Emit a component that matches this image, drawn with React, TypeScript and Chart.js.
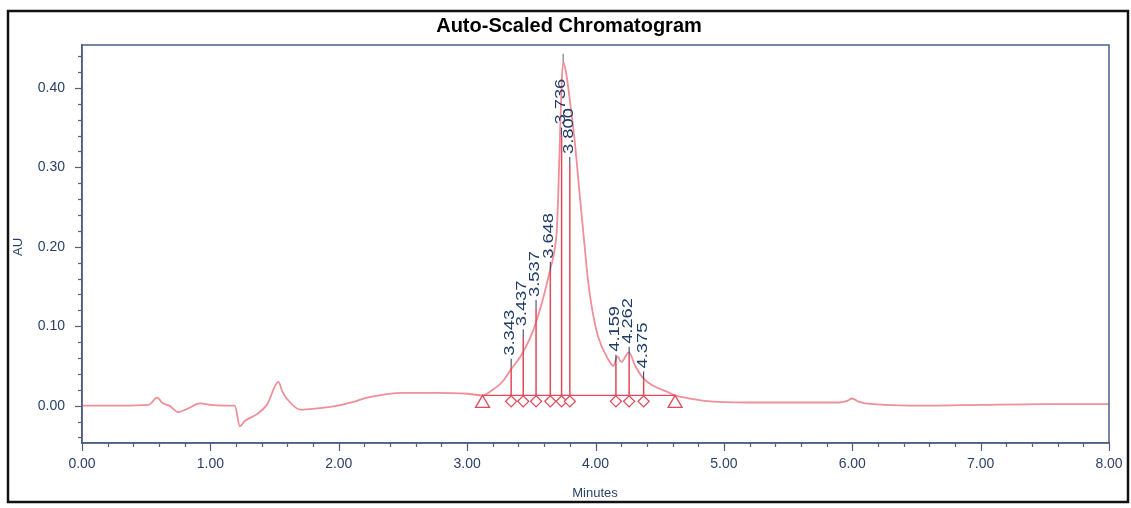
import React, { useEffect, useRef } from "react";
import { Chart, registerables } from "chart.js";

Chart.register(...registerables);

const WIDTH = 1131;
const HEIGHT = 508;

// Detector trace: retention time (min) and absorbance (AU)
const times = [
  0.0, 0.3, 0.52, 0.585, 0.63, 0.68, 0.75, 0.82, 0.92, 1.0, 1.1, 1.19, 1.23, 1.27, 1.36,
  1.44, 1.53, 1.56, 1.6, 1.7, 1.85, 1.96, 2.1, 2.22, 2.35, 2.48, 2.75, 3.0, 3.12, 3.2,
  3.28, 3.343, 3.4, 3.437, 3.49, 3.537, 3.6, 3.648, 3.68, 3.7, 3.72, 3.735, 3.748, 3.77,
  3.8, 3.84, 3.88, 3.91, 3.94, 3.97, 4.02, 4.1, 4.14, 4.17, 4.2, 4.26, 4.31, 4.375, 4.45,
  4.55, 4.62, 4.7, 4.85, 5.2, 5.9, 5.96, 6.0, 6.05, 6.1, 6.6, 7.0, 7.5, 8.0,
];
const absorbance = [
  0.0, 0.0, 0.001, 0.01, 0.003, 0.0, -0.008, -0.004, 0.003, 0.001, 0.0, 0.0, -0.026, -0.019,
  -0.011, 0.001, 0.03, 0.018, 0.008, -0.005, -0.003, -0.001, 0.004, 0.01, 0.014, 0.016,
  0.016, 0.015, 0.013, 0.02, 0.031, 0.046, 0.058, 0.068, 0.085, 0.105, 0.14, 0.172, 0.195,
  0.225, 0.32, 0.4, 0.433, 0.42, 0.385, 0.33, 0.26, 0.21, 0.16, 0.125, 0.087, 0.058, 0.05,
  0.062, 0.055, 0.067, 0.05, 0.034, 0.025, 0.018, 0.013, 0.01, 0.006, 0.004, 0.004, 0.006,
  0.009, 0.005, 0.003, 0.0, 0.001, 0.002, 0.002,
];

// Integrated peaks: retention times and drop-line heights (AU)
const peakTimes = [3.343, 3.437, 3.537, 3.648, 3.736, 3.8, 4.159, 4.262, 4.375];
const peakLabels = ["3.343", "3.437", "3.537", "3.648", "3.736", "3.800", "4.159", "4.262", "4.375"];
const dropTops = [0.049, 0.086, 0.123, 0.171, 0.34, 0.303, 0.054, 0.064, 0.033];

// Integration baseline (start / end times and level in AU)
const baselineStart = 3.12;
const baselineEnd = 4.62;
const baselineLevel = 0.013;

// Axis ranges and ticks
const xMin = 0;
const xMax = 8;
const xMajorStep = 1;
const xMinorStep = 0.2;
const yMin = -0.047;
const yMax = 0.454;
const yMajorStep = 0.1;
const yMinorStep = 0.02;

const TITLE = "Auto-Scaled Chromatogram";
const X_TITLE = "Minutes";
const Y_TITLE = "AU";

const FONT = "'Liberation Sans', Arial, sans-serif";
const AXIS_COLOR = "#4d5f82";
const TICK_TEXT = "#2b4268";
const TRACE_COLOR = "#ef8f99";
const MARK_COLOR = "#e4485a";
const LABEL_COLOR = "#1f3b66";

const chromPlugin = {
  id: "chromMarks",
  afterDatasetsDraw(chart: any) {
    const { ctx, scales } = chart;
    const x = scales.x;
    const y = scales.y;
    ctx.save();

    const by = y.getPixelForValue(baselineLevel);

    // integration baseline
    ctx.strokeStyle = MARK_COLOR;
    ctx.lineWidth = 1.2;
    ctx.beginPath();
    ctx.moveTo(x.getPixelForValue(baselineStart), by);
    ctx.lineTo(x.getPixelForValue(baselineEnd), by);
    ctx.stroke();

    // drop lines
    ctx.lineWidth = 1.5;
    peakTimes.forEach((t, i) => {
      const px = x.getPixelForValue(t);
      const top = y.getPixelForValue(dropTops[i]);
      ctx.beginPath();
      ctx.moveTo(px, by);
      ctx.lineTo(px, top);
      ctx.stroke();
    });

    // diamonds under each drop line
    ctx.lineWidth = 1.3;
    peakTimes.forEach((t) => {
      const px = x.getPixelForValue(t);
      const cy = by + 6;
      ctx.beginPath();
      ctx.moveTo(px, cy - 5.5);
      ctx.lineTo(px + 5.5, cy);
      ctx.lineTo(px, cy + 5.5);
      ctx.lineTo(px - 5.5, cy);
      ctx.closePath();
      ctx.fillStyle = "#ffffff";
      ctx.fill();
      ctx.stroke();
    });

    // baseline start / end triangles
    [baselineStart, baselineEnd].forEach((t) => {
      const px = x.getPixelForValue(t);
      ctx.beginPath();
      ctx.moveTo(px, by);
      ctx.lineTo(px + 7, by + 12);
      ctx.lineTo(px - 7, by + 12);
      ctx.closePath();
      ctx.fillStyle = "#ffffff";
      ctx.fill();
      ctx.stroke();
    });

    // apex marker
    let apexIdx = 0;
    absorbance.forEach((v, i) => {
      if (v > absorbance[apexIdx]) apexIdx = i;
    });
    const ax = x.getPixelForValue(times[apexIdx]);
    const ay = y.getPixelForValue(absorbance[apexIdx]);
    ctx.strokeStyle = "#7a7f8a";
    ctx.lineWidth = 1.2;
    ctx.beginPath();
    ctx.moveTo(ax, ay);
    ctx.lineTo(ax, ay - 8);
    ctx.stroke();

    // retention time labels
    peakTimes.forEach((t, i) => {
      const px = x.getPixelForValue(t);
      const top = y.getPixelForValue(dropTops[i]);
      ctx.strokeStyle = "#2a3a5a";
      ctx.lineWidth = 1;
      ctx.beginPath();
      ctx.moveTo(px, top);
      ctx.lineTo(px, top - 8);
      ctx.stroke();

      ctx.save();
      ctx.translate(px, top - 11);
      ctx.rotate(-Math.PI / 2);
      ctx.scale(1.22, 1);
      ctx.fillStyle = LABEL_COLOR;
      ctx.font = `15px ${FONT}`;
      ctx.textAlign = "left";
      ctx.textBaseline = "middle";
      ctx.fillText(peakLabels[i], 0, -1);
      ctx.restore();
    });

    ctx.restore();
  },
  afterDraw(chart: any) {
    const { ctx, chartArea, scales } = chart;
    const x = scales.x;
    const y = scales.y;
    ctx.save();

    // plot box
    ctx.strokeStyle = AXIS_COLOR;
    ctx.lineWidth = 1.5;
    ctx.strokeRect(chartArea.left, chartArea.top, chartArea.right - chartArea.left, chartArea.bottom - chartArea.top);

    // y ticks (major and minor)
    ctx.lineWidth = 1.2;
    const yStart = Math.ceil(yMin / yMinorStep);
    const yEnd = Math.floor(yMax / yMinorStep);
    for (let k = yStart; k <= yEnd; k++) {
      const v = k * yMinorStep;
      const major = Math.abs(v / yMajorStep - Math.round(v / yMajorStep)) < 1e-6;
      const py = Math.round(y.getPixelForValue(v)) + 0.5;
      ctx.beginPath();
      ctx.moveTo(chartArea.left, py);
      ctx.lineTo(chartArea.left - (major ? 7 : 4), py);
      ctx.stroke();
    }

    // x ticks (major and minor)
    const xEnd = Math.round((xMax - xMin) / xMinorStep);
    for (let k = 0; k <= xEnd; k++) {
      const v = xMin + k * xMinorStep;
      const major = Math.abs(v / xMajorStep - Math.round(v / xMajorStep)) < 1e-6;
      const px = Math.round(x.getPixelForValue(v)) + 0.5;
      ctx.beginPath();
      ctx.moveTo(px, chartArea.bottom);
      ctx.lineTo(px, chartArea.bottom + (major ? 8 : 4));
      ctx.stroke();
    }

    // title
    ctx.fillStyle = "#000000";
    ctx.font = `bold 20px ${FONT}`;
    ctx.textAlign = "center";
    ctx.textBaseline = "middle";
    ctx.fillText(TITLE, 569, 26);

    // axis titles
    ctx.fillStyle = TICK_TEXT;
    ctx.font = `13px ${FONT}`;
    ctx.fillText(X_TITLE, 595, 493);
    ctx.save();
    ctx.translate(18, 247);
    ctx.rotate(-Math.PI / 2);
    ctx.fillText(Y_TITLE, 0, 0);
    ctx.restore();

    // outer frame
    ctx.strokeStyle = "#111111";
    ctx.lineWidth = 2.5;
    ctx.strokeRect(8, 11, 1120, 491);

    ctx.restore();
  },
};

export default function App() {
  const canvasRef = useRef<HTMLCanvasElement | null>(null);

  useEffect(() => {
    const canvas = canvasRef.current;
    if (!canvas) return;
    const points = times.map((t, i) => ({ x: t, y: absorbance[i] }));
    const chart = new Chart(canvas, {
      type: "line",
      data: {
        datasets: [
          {
            data: points,
            borderColor: TRACE_COLOR,
            borderWidth: 1.8,
            pointRadius: 0,
            cubicInterpolationMode: "monotone",
            fill: false,
          },
        ],
      },
      options: {
        animation: false,
        responsive: false,
        maintainAspectRatio: false,
        layout: { padding: { top: 45, right: 22, bottom: 0, left: 0 } },
        plugins: {
          legend: { display: false },
          tooltip: { enabled: false },
          title: { display: false },
        },
        scales: {
          x: {
            type: "linear",
            min: xMin,
            max: xMax,
            grid: { display: false, drawTicks: false },
            border: { display: true, color: AXIS_COLOR, width: 1.5 },
            ticks: {
              stepSize: xMajorStep,
              color: TICK_TEXT,
              font: { family: FONT, size: 14 },
              padding: 13,
              maxRotation: 0,
              autoSkip: false,
              callback: (v: any) => Number(v).toFixed(2),
            },
            afterFit: (scale: any) => {
              scale.height = 65;
              scale.paddingLeft = 0;
              scale.paddingRight = 0;
            },
          },
          y: {
            type: "linear",
            min: yMin,
            max: yMax,
            grid: { display: false, drawTicks: false },
            border: { display: true, color: AXIS_COLOR, width: 1.5 },
            ticks: {
              stepSize: yMajorStep,
              includeBounds: false,
              color: TICK_TEXT,
              font: { family: FONT, size: 14 },
              padding: 17,
              autoSkip: false,
              callback: (v: any) => Number(v).toFixed(2),
            },
            afterFit: (scale: any) => {
              scale.width = 82;
              scale.paddingTop = 0;
              scale.paddingBottom = 0;
            },
          },
        },
      },
      plugins: [chromPlugin],
    });
    return () => chart.destroy();
  }, []);

  return (
    <div style={{ position: "absolute", left: 0, top: 0, width: WIDTH, height: HEIGHT, background: "#ffffff" }}>
      <canvas ref={canvasRef} width={WIDTH} height={HEIGHT} style={{ display: "block" }} />
    </div>
  );
}
